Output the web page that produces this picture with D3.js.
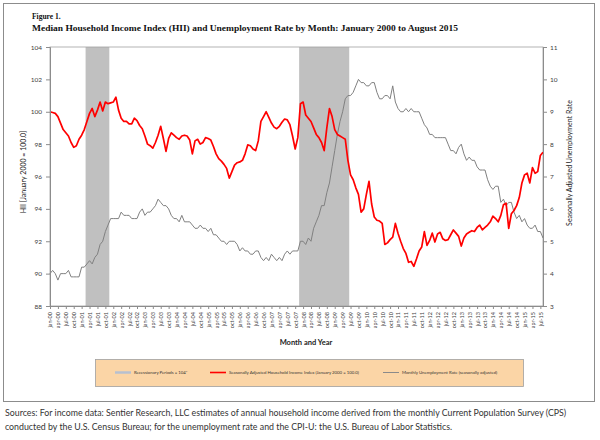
<!DOCTYPE html>
<html><head><meta charset="utf-8">
<script src="https://cdn.jsdelivr.net/npm/d3@7"></script>
<style>
html,body{margin:0;padding:0;background:#fff;}
svg{display:block;}
</style></head>
<body><svg id="chart" width="600" height="440"></svg>
<script>
// ---- data ----
const monthAbbr = ["jan","feb","mar","apr","may","jun","jul","aug","sep","oct","nov","dec"];
const startYear = 2000, monthCount = 188; // Jan 2000 .. Aug 2015
const categories = d3.range(monthCount).map(i => monthAbbr[i % 12] + "-" + String((startYear + Math.floor(i / 12)) % 100).padStart(2, "0"));
const tickLabels = categories.filter((c, i) => i % 3 === 0);

const incomeIndex = [
  100.0, 99.95, 99.9, 99.7, 99.3, 98.9, 98.7, 98.5, 98.1, 97.8, 97.9, 98.3,
  98.55, 98.9, 99.4, 99.9, 100.2, 99.7, 100.1, 100.6, 100.05, 100.6, 100.5, 100.55,
  100.6, 100.9, 100.1, 99.6, 99.4, 99.4, 99.25, 99.25, 99.6, 99.45, 99.15, 98.95,
  98.5, 98.0, 97.9, 97.75, 98.1, 98.55, 99.1, 98.35, 97.55, 98.35, 98.7, 98.55,
  98.4, 98.3, 98.5, 98.55, 98.5, 98.25, 97.4, 98.2, 98.3, 98.0, 98.1, 98.4,
  98.35, 98.25, 97.85, 97.4, 97.1, 96.95, 96.75, 96.5, 95.9, 96.3, 96.7, 96.85,
  96.9, 97.0, 97.4, 97.95, 97.9, 97.7, 97.6, 98.2, 99.4, 99.7, 100.0, 99.65,
  99.3, 99.05, 98.95, 99.1, 99.35, 99.55, 99.5, 99.2, 98.5, 97.7, 98.4, 100.5,
  100.6, 99.8, 99.6, 99.4, 99.0, 98.6, 98.4, 98.1, 97.6, 99.0, 100.2, 99.7,
  98.9, 98.6, 98.5, 98.4, 98.3, 97.0, 96.1, 95.8, 95.3, 94.9, 93.8, 94.0,
  94.9, 95.7, 94.3, 93.5, 93.3, 93.25, 93.1, 91.8, 91.9, 92.1, 92.25, 93.1,
  92.5, 92.0, 91.55, 91.25, 90.7, 90.75, 90.45, 90.9, 91.4, 91.65, 92.6, 91.75,
  92.05, 92.5, 91.95, 92.45, 92.55, 92.15, 92.05, 92.1, 92.4, 92.7, 92.5, 92.3,
  91.7, 92.2, 92.45, 92.55, 92.65, 92.6, 92.85, 93.0, 92.7, 92.85, 93.0, 93.2,
  93.55, 93.4, 93.2, 93.6, 94.25, 94.35, 92.8, 93.7, 93.9, 94.2, 94.7, 95.6,
  96.1, 96.2, 95.6, 96.55, 96.2, 96.3, 97.3, 97.5
];

const unemploymentRate = [
  4.0, 4.1, 4.0, 3.8, 4.0, 4.0, 4.0, 4.1, 3.9, 3.9, 3.9, 3.9,
  4.2, 4.2, 4.3, 4.4, 4.3, 4.5, 4.6, 4.9, 5.0, 5.3, 5.5, 5.7,
  5.7, 5.7, 5.7, 5.9, 5.8, 5.8, 5.8, 5.7, 5.7, 5.7, 5.9, 6.0,
  5.8, 5.9, 5.9, 6.0, 6.1, 6.3, 6.2, 6.1, 6.1, 6.0, 5.8, 5.7,
  5.7, 5.6, 5.8, 5.6, 5.6, 5.6, 5.5, 5.4, 5.4, 5.5, 5.4, 5.4,
  5.3, 5.4, 5.2, 5.2, 5.1, 5.0, 5.0, 4.9, 5.0, 5.0, 5.0, 4.9,
  4.7, 4.8, 4.7, 4.7, 4.6, 4.6, 4.7, 4.7, 4.5, 4.4, 4.5, 4.4,
  4.6, 4.5, 4.4, 4.5, 4.4, 4.6, 4.7, 4.6, 4.7, 4.7, 4.7, 5.0,
  5.0, 4.9, 5.1, 5.0, 5.4, 5.6, 5.8, 6.1, 6.1, 6.5, 6.8, 7.3,
  7.8, 8.3, 8.7, 9.0, 9.4, 9.5, 9.5, 9.6, 9.8, 10.0, 9.9, 9.9,
  9.8, 9.8, 9.9, 9.9, 9.6, 9.4, 9.4, 9.5, 9.5, 9.4, 9.8, 9.3,
  9.1, 9.0, 9.0, 9.1, 9.0, 9.1, 9.0, 9.0, 9.0, 8.8, 8.6, 8.5,
  8.3, 8.3, 8.2, 8.2, 8.2, 8.2, 8.2, 8.0, 7.8, 7.8, 7.7, 7.9,
  8.0, 7.7, 7.5, 7.6, 7.5, 7.5, 7.3, 7.2, 7.2, 7.2, 6.9, 6.7,
  6.6, 6.7, 6.7, 6.2, 6.3, 6.1, 6.2, 6.2, 5.9, 5.7, 5.8, 5.6,
  5.7, 5.5, 5.4, 5.4, 5.5, 5.3, 5.3, 5.1
];

const recessions = [["mar-01", "nov-01"], ["dec-07", "jun-09"]];
const leftTicks = [88, 90, 92, 94, 96, 98, 100, 102, 104];
const rightTicks = [3, 4, 5, 6, 7, 8, 9, 10, 11];
const legendItems = [
  {label: "Recessionary Periods = 104*", color: "#b7c0d0", width: 2.5},
  {label: "Seasonally Adjusted Household Income Index (January 2000 = 100.0)", color: "#ff0000", width: 1.6},
  {label: "Monthly Unemployment Rate (seasonally adjusted)", color: "#8a8a8a", width: 1}
];
const sourceLines = [
  "Sources: For income data: Sentier Research, LLC estimates of annual household income derived from the monthly Current Population Survey (CPS)",
  "conducted by the U.S. Census Bureau; for the unemployment rate and the CPI-U: the U.S. Bureau of Labor Statistics."
];

// ---- drawing ----
const svg = d3.select("#chart");
const L = 50, R = 543, T = 47, B = 306;

const x = d3.scalePoint().domain(categories).range([L, R]);
const step = x.step();
const yL = d3.scaleLinear().domain([88, 104]).range([B, T]);
const yR = d3.scaleLinear().domain([3, 11]).range([B, T]);

// outer frame
svg.append("rect").attr("x", 3.5).attr("y", 3.5).attr("width", 591).attr("height", 398)
  .attr("fill", "#fff").attr("stroke", "#8c8c8c").attr("stroke-width", 1);

// titles
svg.append("text").attr("x", 32).attr("y", 19).text("Figure 1.")
  .attr("font-family", "Liberation Serif, serif").attr("font-weight", "bold").attr("font-size", 7.5).attr("fill", "#111");
svg.append("text").attr("x", 32).attr("y", 31)
  .text("Median Household Income Index (HII) and Unemployment Rate by Month: January 2000 to August 2015")
  .attr("font-family", "Liberation Serif, serif").attr("font-weight", "bold").attr("font-size", 9).attr("fill", "#111")
  .attr("textLength", 426).attr("lengthAdjust", "spacingAndGlyphs");

// recession shading
svg.append("g").selectAll("rect").data(recessions).join("rect")
  .attr("x", d => x(d[0]) - step / 2)
  .attr("width", d => x(d[1]) - x(d[0]) + step)
  .attr("y", yL(104)).attr("height", yL(88) - yL(104))
  .attr("fill", "#c0c0c0");

// plot border
svg.append("rect").attr("x", L).attr("y", T).attr("width", R - L).attr("height", B - T)
  .attr("fill", "none").attr("stroke", "#a0a0a0").attr("stroke-width", 0.8);

// lines
svg.append("path").datum(unemploymentRate)
  .attr("fill", "none").attr("stroke", "#808080").attr("stroke-width", 1)
  .attr("d", d3.line().x((d, i) => x(categories[i])).y(d => yR(d)));
svg.append("path").datum(incomeIndex)
  .attr("fill", "none").attr("stroke", "#ff0000").attr("stroke-width", 1.7).attr("stroke-linejoin", "round")
  .attr("d", d3.line().x((d, i) => x(categories[i])).y(d => yL(d)));

function styleAxis(g) {
  g.select(".domain").attr("stroke", "#8c8c8c");
  g.selectAll(".tick line").attr("stroke", "#8c8c8c");
  g.selectAll("text").attr("fill", "#404040").attr("font-family", "Lato, sans-serif");
}

// left axis
svg.append("g").attr("transform", `translate(${L},0)`)
  .call(d3.axisLeft(yL).tickValues(leftTicks).tickSize(4).tickPadding(4).tickFormat(d3.format("d")))
  .call(styleAxis).call(g => g.selectAll("text").attr("font-size", 6.5));

// right axis
svg.append("g").attr("transform", `translate(${R},0)`)
  .call(d3.axisRight(yR).tickValues(rightTicks).tickSize(4).tickPadding(3).tickFormat(d3.format("d")))
  .call(styleAxis).call(g => g.selectAll("text").attr("font-size", 6.5));

// bottom axis
svg.append("g").attr("transform", `translate(0,${B})`)
  .call(d3.axisBottom(x).tickValues(tickLabels).tickSize(3).tickSizeOuter(0))
  .call(styleAxis)
  .call(g => g.selectAll("text")
    .attr("font-size", 5.5)
    .attr("transform", "rotate(-90)")
    .attr("text-anchor", "end")
    .attr("x", -6).attr("y", 0).attr("dy", "0.35em"));

// axis titles
svg.append("text").attr("transform", "translate(26,172) rotate(-90)")
  .attr("text-anchor", "middle").attr("font-family", "Lato, sans-serif").attr("font-size", 7).attr("fill", "#222")
  .text("HII [January 2000 = 100.0]");
svg.append("text").attr("transform", "translate(572,163) rotate(-90)")
  .attr("text-anchor", "middle").attr("font-family", "Lato, sans-serif").attr("font-size", 7).attr("fill", "#222")
  .text("Seasonally Adjusted Unemployment Rate");
svg.append("text").attr("x", 306).attr("y", 345)
  .attr("text-anchor", "middle").attr("font-family", "Lato, sans-serif").attr("font-weight", "bold").attr("font-size", 7.5).attr("fill", "#222")
  .text("Month and Year");

// legend
svg.append("rect").attr("x", 95.5).attr("y", 359.5).attr("width", 428).attr("height", 27)
  .attr("fill", "#fbd5a6").attr("stroke", "#a0a0a0").attr("stroke-width", 0.8);
const legX = [115, 210, 383];
const leg = svg.append("g").selectAll("g").data(legendItems).join("g")
  .attr("transform", (d, i) => `translate(${legX[i]},372.5)`);
leg.append("line").attr("x1", 0).attr("x2", 16).attr("y1", 0).attr("y2", 0)
  .attr("stroke", d => d.color).attr("stroke-width", d => d.width);
leg.append("text").attr("x", 19).attr("y", 0).attr("dy", "0.35em")
  .attr("font-family", "Lato, sans-serif").attr("font-size", 4.3).attr("fill", "#333")
  .text(d => d.label);

// sources
svg.append("g").attr("font-family", "Lato, sans-serif").attr("font-size", 8.8).attr("fill", "#333")
  .selectAll("text").data(sourceLines).join("text")
  .attr("x", 5).attr("y", (d, i) => 416 + i * 14)
  .text(d => d);
</script>
</body></html>
